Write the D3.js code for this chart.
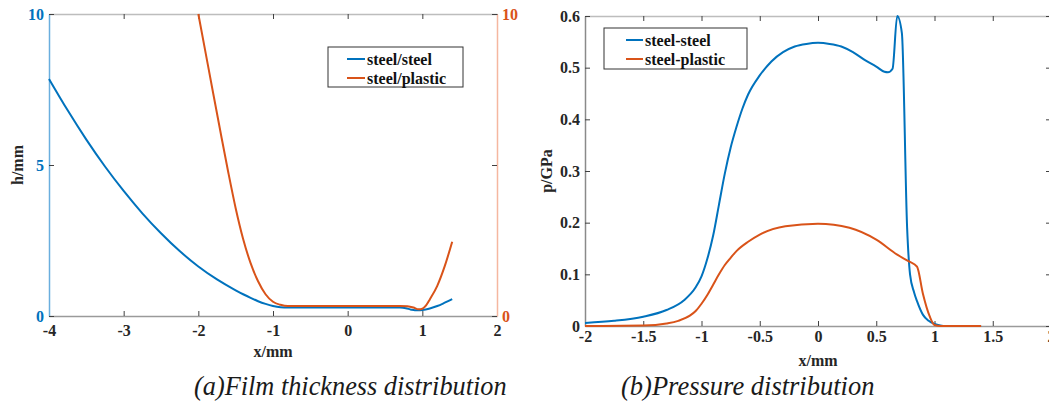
<!DOCTYPE html>
<html>
<head>
<meta charset="utf-8">
<script src="https://cdn.jsdelivr.net/npm/d3@7"></script>
<style>
  body { margin: 0; background: #fff; }
  svg text { font-family: "Liberation Serif", "Times New Roman", Times, Tinos, "DejaVu Serif", serif; }
</style>
</head>
<body>
<svg id="chart" width="1049" height="403"></svg>
<script>
// film thickness, steel/steel (x in mm, h in mm)
var filmSteelX = [-4, -3.75, -3.5, -3.25, -3, -2.75, -2.5, -2.25, -2, -1.75, -1.5, -1.4, -1.3, -1.2, -1.1, -1, -0.9, -0.8, -0.5, 0, 0.5, 0.7, 0.78, 0.85, 0.9, 0.95, 1.0, 1.1, 1.2, 1.3, 1.4];
var filmSteelH = [7.85, 6.81, 5.84, 4.95, 4.14, 3.40, 2.74, 2.15, 1.64, 1.21, 0.85, 0.72, 0.6, 0.49, 0.4, 0.33, 0.29, 0.28, 0.28, 0.28, 0.28, 0.28, 0.26, 0.21, 0.19, 0.19, 0.2, 0.25, 0.33, 0.44, 0.56];
// film thickness, steel/plastic
var filmPlasticX = [-2, -1.9, -1.8, -1.7, -1.6, -1.5, -1.4, -1.3, -1.2, -1.1, -1.0, -0.9, -0.8, 0, 0.7, 0.8, 0.88, 0.95, 1.0, 1.05, 1.1, 1.2, 1.3, 1.4];
var filmPlasticH = [10, 8.68, 7.36, 6.05, 4.77, 3.57, 2.55, 1.75, 1.15, 0.72, 0.47, 0.37, 0.33, 0.33, 0.33, 0.32, 0.28, 0.22, 0.24, 0.35, 0.55, 1.0, 1.65, 2.46];

// pressure, steel-steel (p in GPa)
var presSteelX = [-2, -1.75, -1.5, -1.3, -1.15, -1.05, -1, -0.95, -0.9, -0.85, -0.8, -0.75, -0.7, -0.65, -0.6, -0.5, -0.4, -0.3, -0.2, -0.1, 0, 0.1, 0.2, 0.3, 0.4, 0.5, 0.57, 0.6, 0.64, 0.68, 0.72, 0.765, 0.79, 0.825, 0.85, 0.9, 0.95, 1.0, 1.05, 1.1, 1.4];
var presSteelP = [0.006, 0.01, 0.018, 0.031, 0.05, 0.075, 0.096, 0.13, 0.175, 0.235, 0.295, 0.345, 0.385, 0.42, 0.448, 0.485, 0.512, 0.53, 0.541, 0.546, 0.548, 0.546, 0.541, 0.53, 0.515, 0.502, 0.492, 0.491, 0.498, 0.6, 0.567, 0.19, 0.1, 0.065, 0.048, 0.022, 0.01, 0.004, 0.001, 0, 0];
// pressure, steel-plastic
var presPlasticX = [-2, -1.5, -1.3, -1.2, -1.1, -1.05, -1.0, -0.95, -0.9, -0.85, -0.8, -0.75, -0.7, -0.6, -0.5, -0.28, 0, 0.27, 0.5, 0.68, 0.78, 0.85, 0.9, 0.96, 1.0, 1.05, 1.4];
var presPlasticP = [0, 0.001, 0.005, 0.01, 0.02, 0.029, 0.043, 0.06, 0.08, 0.1, 0.118, 0.132, 0.145, 0.163, 0.177, 0.193, 0.198, 0.19, 0.167, 0.138, 0.125, 0.115, 0.063, 0.018, 0.002, 0, 0];

var filmXTicks = [-4, -3, -2, -1, 0, 1, 2];
var filmYTicks = [0, 5, 10];
var presXTicks = [-2, -1.5, -1, -0.5, 0, 0.5, 1, 1.5, 2];
var presYTicks = [0, 0.1, 0.2, 0.3, 0.4, 0.5, 0.6];

var blue = "#0072BD", orange = "#D95319";
var serif = '"Liberation Serif", "Times New Roman", Times, Tinos, "DejaVu Serif", serif';
var svg = d3.select("#chart").attr("font-family", serif);

function zip(xs, ys) {
  return xs.map(function (x, i) { return [x, ys[i]]; });
}

function styleAxis(g, lineColor, textColor) {
  g.attr("font-family", null);
  g.select(".domain").attr("stroke", lineColor).attr("stroke-width", 1.5);
  g.selectAll(".tick line").attr("stroke", "#404040");
  g.selectAll(".tick text")
    .attr("fill", textColor)
    .attr("font-size", 16)
    .attr("font-weight", "bold");
}

var fmt = function (d) { return String(d); };

// ---------- (a) film thickness ----------
var xA = d3.scaleLinear().domain([-4, 2]).range([49, 497]);
var yA = d3.scaleLinear().domain([0, 10]).range([316, 14]);

var gA = svg.append("g");

gA.append("g").attr("transform", "translate(0,14)")
  .call(d3.axisTop(xA).tickValues(filmXTicks).tickSizeInner(-5).tickSizeOuter(0).tickFormat(""))
  .call(styleAxis, "#bdbdbd", "#262626");

gA.append("g").attr("transform", "translate(0,316)")
  .call(d3.axisBottom(xA).tickValues(filmXTicks).tickSizeInner(-5).tickSizeOuter(0).tickPadding(9).tickFormat(fmt))
  .call(styleAxis, "#9a9a9a", "#262626");

gA.append("g").attr("transform", "translate(49,0)")
  .call(d3.axisLeft(yA).tickValues(filmYTicks).tickSizeInner(-5).tickSizeOuter(0).tickPadding(5).tickFormat(fmt))
  .call(styleAxis, "#6aaede", blue);

gA.append("g").attr("transform", "translate(497,0)")
  .call(d3.axisRight(yA).tickValues(filmYTicks).tickSizeInner(-5).tickSizeOuter(0).tickPadding(5)
    .tickFormat(function (d) { return d === 5 ? "" : String(d); }))
  .call(styleAxis, "#f5b7a0", orange);

var lineA = d3.line().x(function (d) { return xA(d[0]); }).y(function (d) { return yA(d[1]); }).curve(d3.curveMonotoneX);

gA.append("path").datum(zip(filmSteelX, filmSteelH))
  .attr("d", lineA).attr("fill", "none").attr("stroke", blue).attr("stroke-width", 2);
gA.append("path").datum(zip(filmPlasticX, filmPlasticH))
  .attr("d", lineA).attr("fill", "none").attr("stroke", orange).attr("stroke-width", 2);

gA.append("text").attr("x", 273).attr("y", 357).attr("text-anchor", "middle")
  .attr("font-size", 16).attr("font-weight", "bold").attr("fill", "#262626").text("x/mm");
gA.append("text").attr("transform", "translate(23,165) rotate(-90)").attr("text-anchor", "middle")
  .attr("font-size", 16).attr("font-weight", "bold").attr("fill", "#262626").text("h/mm");

// ---------- (b) pressure ----------
var xB = d3.scaleLinear().domain([-2, 2]).range([585, 1051]);
var yB = d3.scaleLinear().domain([0, 0.6]).range([326, 16]);

var gB = svg.append("g");

gB.append("g").attr("transform", "translate(0,16)")
  .call(d3.axisTop(xB).tickValues(presXTicks).tickSizeInner(-5).tickSizeOuter(0).tickFormat(""))
  .call(styleAxis, "#bdbdbd", "#262626");

gB.append("g").attr("transform", "translate(0,326)")
  .call(d3.axisBottom(xB).tickValues(presXTicks).tickSizeInner(-5).tickSizeOuter(0).tickPadding(5).tickFormat(fmt))
  .call(styleAxis, "#9a9a9a", "#262626");

gB.append("g").attr("transform", "translate(585,0)")
  .call(d3.axisLeft(yB).tickValues(presYTicks).tickSizeInner(-5).tickSizeOuter(0).tickPadding(5).tickFormat(fmt))
  .call(styleAxis, "#8a8a8a", "#262626");

gB.append("g").attr("transform", "translate(1051,0)")
  .call(d3.axisRight(yB).tickValues(presYTicks).tickSizeInner(-5).tickSizeOuter(0).tickFormat(""))
  .call(styleAxis, "#bdbdbd", "#262626");

var lineB = d3.line().x(function (d) { return xB(d[0]); }).y(function (d) { return yB(d[1]); }).curve(d3.curveMonotoneX);

gB.append("path").datum(zip(presSteelX, presSteelP))
  .attr("d", lineB).attr("fill", "none").attr("stroke", blue).attr("stroke-width", 2);
gB.append("path").datum(zip(presPlasticX, presPlasticP))
  .attr("d", lineB).attr("fill", "none").attr("stroke", orange).attr("stroke-width", 2);

gB.append("text").attr("x", 818).attr("y", 366).attr("text-anchor", "middle")
  .attr("font-size", 16).attr("font-weight", "bold").attr("fill", "#262626").text("x/mm");
gB.append("text").attr("transform", "translate(552,171) rotate(-90)").attr("text-anchor", "middle")
  .attr("font-size", 16).attr("font-weight", "bold").attr("fill", "#262626").text("p/GPa");

// ---------- legends ----------
function legend(g, x, y, w, h, lineX0, lineX1, rows, labels) {
  var box = g.append("g");
  box.append("rect").attr("x", x).attr("y", y).attr("width", w).attr("height", h)
    .attr("fill", "#fff").attr("stroke", "#333").attr("stroke-width", 1);
  labels.forEach(function (lab, i) {
    box.append("line").attr("x1", lineX0).attr("x2", lineX1).attr("y1", rows[i]).attr("y2", rows[i])
      .attr("stroke", lab.color).attr("stroke-width", 2);
    box.append("text").attr("x", lineX1 + 2).attr("y", rows[i]).attr("dy", "0.35em")
      .attr("font-size", 16).attr("font-weight", "bold").attr("fill", "#111").text(lab.name);
  });
}

legend(gA, 328, 47, 135, 40, 347, 365, [59, 78],
  [{ name: "steel/steel", color: blue }, { name: "steel/plastic", color: orange }]);
legend(gB, 604, 28, 143, 41, 626, 643, [40, 59],
  [{ name: "steel-steel", color: blue }, { name: "steel-plastic", color: orange }]);

// ---------- captions ----------
svg.append("text").attr("x", 194).attr("y", 395).attr("font-size", 26.3).attr("font-style", "italic")
  .attr("fill", "#1a1a1a").text("(a)Film thickness distribution");
svg.append("text").attr("x", 621).attr("y", 395).attr("font-size", 26.5).attr("font-style", "italic")
  .attr("fill", "#1a1a1a").text("(b)Pressure distribution");
</script>
</body>
</html>
